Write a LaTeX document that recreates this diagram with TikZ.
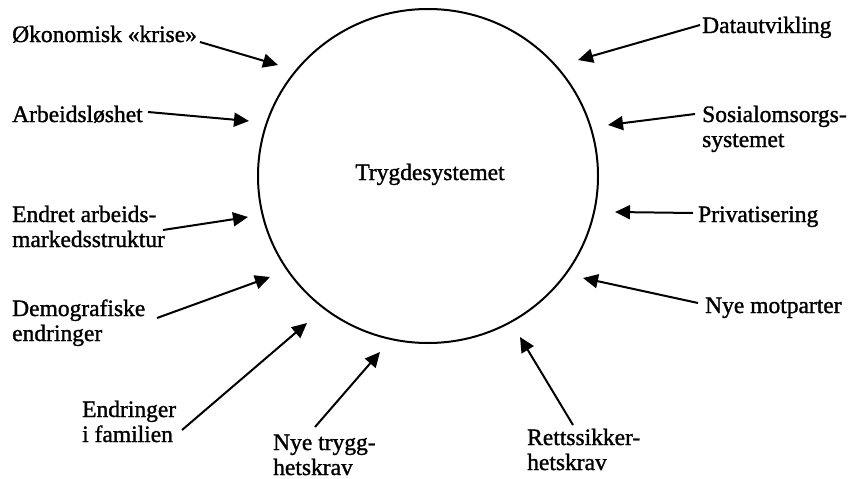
\documentclass[tikz,border=0pt]{standalone}
\usepackage{fontspec}
\setmainfont{Liberation Serif}
\newfontfamily\lblfont{Liberation Serif}[FakeBold=1.3]
\usetikzlibrary{arrows.meta}
\tikzset{
  lbl/.style={inner sep=0pt, align=left, font=\lblfont\fontsize{23.5}{25}\selectfont},
  arr/.style={line width=2pt, -{Triangle[length=15pt,width=14pt]}},
}
\begin{document}
\begin{tikzpicture}[x=1pt,y=-1pt]
\useasboundingbox (0,0) rectangle (849,479);
% central circle
\draw[line width=2pt] (428,176) ellipse [x radius=170, y radius=167];
\node[lbl, anchor=base] (tryg) at (430,180) {Trygdesystemet};
% labels (base = last line)
\node[lbl, anchor=base west] (okon) at (12,42) {Økonomisk «krise»};
\node[lbl, anchor=base west] (arb) at (12,122) {Arbeidsløshet};
\node[lbl, anchor=base west] (endret) at (12,247) {Endret arbeids-\\markedsstruktur};
\node[lbl, anchor=base west] (demo) at (12,341) {Demografiske\\endringer};
\node[lbl, anchor=base west] (fam) at (82,442) {Endringer\\i familien};
\node[lbl, anchor=base west] (trygg) at (273,475) {Nye trygg-\\hetskrav};
\node[lbl, anchor=base west] (rett) at (527,470) {Rettssikker-\\hetskrav};
\node[lbl, anchor=base west] (data) at (702,33) {Datautvikling};
\node[lbl, anchor=base west] (sos) at (702,147) {Sosialomsorgs-\\systemet};
\node[lbl, anchor=base west] (priv) at (698,222) {Privatisering};
\node[lbl, anchor=base west] (nye) at (705,313) {Nye motparter};
% arrow tips
\coordinate (tokon) at (278,65);
\coordinate (tarb) at (249,121);
\coordinate (tendret) at (248,217);
\coordinate (tdemo) at (270,277);
\coordinate (tfam) at (307,323);
\coordinate (ttrygg) at (380,352);
\coordinate (trett) at (520,337);
\coordinate (tdata) at (578,60);
\coordinate (tsos) at (608,125);
\coordinate (tpriv) at (615,212);
\coordinate (tnye) at (583,278);
% arrows
\draw[arr] ([shift={(188,0)}]okon.base west) -- (tokon);
\draw[arr] ([shift={(136,-10)}]arb.base west) -- (tarb);
\draw[arr] ([shift={(151,-17)}]endret.base west) -- (tendret);
\draw[arr] ([shift={(145,-23)}]demo.base west) -- (tdemo);
\draw[arr] ([shift={(100,-12)}]fam.base west) -- (tfam);
\draw[arr] ([shift={(42,-48)}]trygg.base west) -- (ttrygg);
\draw[arr] ([shift={(46,-45)}]rett.base west) -- (trett);
\draw[arr] ([shift={(-2,-8)}]data.base west) -- (tdata);
\draw[arr] ([shift={(-7,-33)}]sos.base west) -- (tsos);
\draw[arr] ([shift={(-5,-9)}]priv.base west) -- (tpriv);
\draw[arr] ([shift={(-7,-10)}]nye.base west) -- (tnye);
\end{tikzpicture}
\end{document}
